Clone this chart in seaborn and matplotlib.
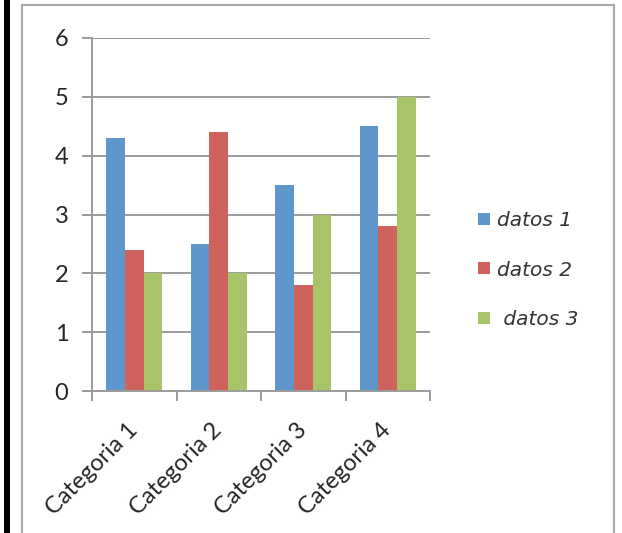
import pandas as pd
import numpy as np
import matplotlib
matplotlib.use("Agg")
import matplotlib.pyplot as plt
import seaborn as sns
from matplotlib.patches import Rectangle
from matplotlib.lines import Line2D

categorias = ["Categoria 1", "Categoria 2", "Categoria 3", "Categoria 4"]
datos_1 = [4.3, 2.5, 3.5, 4.5]
datos_2 = [2.4, 4.4, 1.8, 2.8]
datos_3 = [2.0, 2.0, 3.0, 5.0]
series = ["datos 1", "datos 2", "datos 3"]
colores = ["#5F96CB", "#CF625C", "#A8C468"]

df = pd.DataFrame({
    "categoria": categorias * 3,
    "valor": datos_1 + datos_2 + datos_3,
    "serie": [s for s in series for _ in categorias],
})

sns.set_style("white")
plt.rcParams["font.family"] = ["Lato", "DejaVu Sans"]

fig = plt.figure(figsize=(6.22, 5.33), dpi=100)
ax = fig.add_axes([92 / 622, 1 - 391 / 533, 338 / 622, 353 / 533])

sns.barplot(data=df, x="categoria", y="valor", hue="serie", palette=colores,
            width=0.66, saturation=1, linewidth=0, ax=ax, legend=False)

gris = "#9c9c9c"
ax.set_ylim(0, 6)
ax.set_xlim(-0.5, 3.5)
ax.set_yticks(range(0, 7))
ax.yaxis.grid(True, color=gris, linewidth=1.4)
ax.set_axisbelow(True)
ax.set_xlabel("")
ax.set_ylabel("")
for s in ["top", "right"]:
    ax.spines[s].set_visible(False)
for s in ["left", "bottom"]:
    ax.spines[s].set_color(gris)
    ax.spines[s].set_linewidth(1.4)

ax.tick_params(axis="y", direction="out", length=7, width=1.4, color=gris,
               labelsize=17, pad=10, left=True)
ax.set_xticks(np.arange(-0.5, 4, 1), minor=True)
ax.tick_params(axis="x", which="minor", direction="out", length=7, width=1.4,
               color=gris, bottom=True)
ax.tick_params(axis="x", which="major", length=0, labelsize=17, pad=26)
for lbl in ax.get_xticklabels():
    lbl.set_rotation(45)
    lbl.set_ha("right")
    lbl.set_va("center")
    lbl.set_rotation_mode("anchor")

# legend
handles = [Line2D([], [], marker="s", linestyle="", markersize=9,
                  markerfacecolor=c, markeredgewidth=0) for c in colores]
leg = fig.legend(handles, ["datos 1", "datos 2", " datos 3"],
                 loc="center left", bbox_to_anchor=(466 / 622, 1 - 270 / 533),
                 frameon=False, fontsize=14.5, labelspacing=1.5,
                 handlelength=0.8, handletextpad=0.25, borderpad=0)
for t in leg.get_texts():
    t.set_fontfamily("DejaVu Sans")
    t.set_fontweight("light")
    t.set_fontstyle("italic")
    t.set_color("#333333")

# page frame
fig.patches.append(Rectangle((22 / 622, -0.1), 592 / 622, 1.1 - 5 / 533,
                             transform=fig.transFigure, fill=False,
                             edgecolor="#a8a8a8", linewidth=1.5))
fig.patches.append(Rectangle((4 / 622, 0), 6 / 622, 1,
                             transform=fig.transFigure, facecolor="black",
                             edgecolor="none"))

fig.savefig("out.png", dpi=100, facecolor="white")
